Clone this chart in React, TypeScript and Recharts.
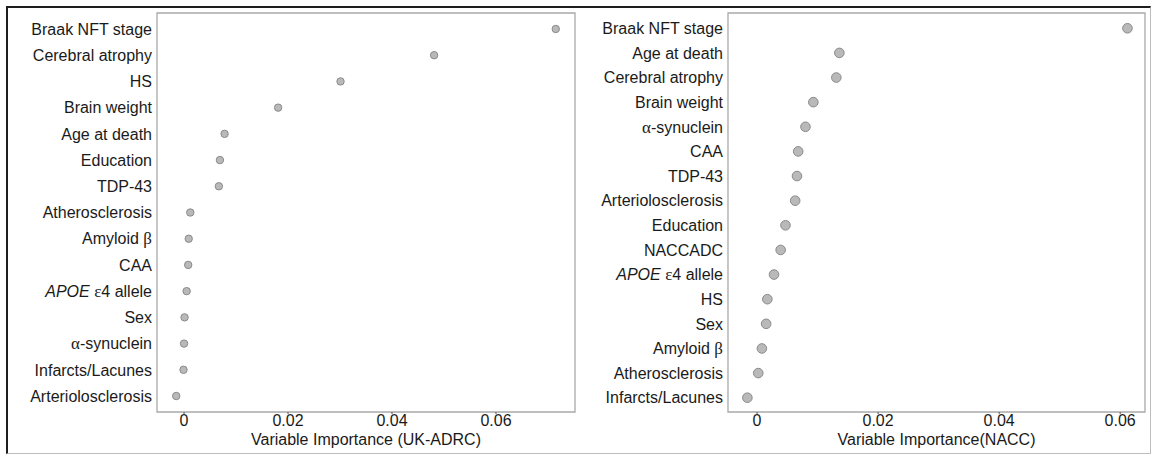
import React from "react";
import { ScatterChart, Scatter, XAxis, YAxis, ReferenceArea } from "recharts";

const ukCategories = [
  "Braak NFT stage",
  "Cerebral atrophy",
  "HS",
  "Brain weight",
  "Age at death",
  "Education",
  "TDP-43",
  "Atherosclerosis",
  "Amyloid β",
  "CAA",
  "APOE ε4 allele",
  "Sex",
  "α-synuclein",
  "Infarcts/Lacunes",
  "Arteriolosclerosis",
];
const ukValues = [0.0715, 0.0481, 0.0301, 0.0181, 0.0078, 0.0069, 0.0067, 0.0012, 0.0009, 0.0008, 0.0005, 0.0001, 0.0, -0.0001, -0.0015];

const naccCategories = [
  "Braak NFT stage",
  "Age at death",
  "Cerebral atrophy",
  "Brain weight",
  "α-synuclein",
  "CAA",
  "TDP-43",
  "Arteriolosclerosis",
  "Education",
  "NACCADC",
  "APOE ε4 allele",
  "HS",
  "Sex",
  "Amyloid β",
  "Atherosclerosis",
  "Infarcts/Lacunes",
];
const naccValues = [0.0612, 0.0136, 0.0131, 0.0093, 0.008, 0.0068, 0.0066, 0.0063, 0.0047, 0.0039, 0.0028, 0.0017, 0.0015, 0.0008, 0.0002, -0.0016];

const xTicks = [0, 0.02, 0.04, 0.06];
const ukTitle = "Variable Importance (UK-ADRC)";
const naccTitle = "Variable Importance(NACC)";

const FONT = "'Liberation Sans', Arial, sans-serif";
const SERIF = "'Liberation Serif', 'Times New Roman', serif";

function renderLabel(label: string) {
  const parts: React.ReactNode[] = [];
  if (label.startsWith("APOE")) {
    parts.push(
      <tspan key="i" fontStyle="italic">
        APOE
      </tspan>
    );
    label = label.slice(4);
  }
  let buf = "";
  let k = 0;
  for (const ch of label) {
    if (ch === "α" || ch === "β" || ch === "ε") {
      if (buf) parts.push(<tspan key={k++}>{buf}</tspan>);
      buf = "";
      parts.push(
        <tspan key={k++} fontFamily={SERIF} fontSize={17}>
          {ch}
        </tspan>
      );
    } else buf += ch;
  }
  if (buf) parts.push(<tspan key={k++}>{buf}</tspan>);
  return parts;
}

function makeTick(categories: string[]) {
  return (props: any) => {
    const { x, y, payload } = props;
    const label = categories[Math.round(payload.value) - 1] ?? "";
    return (
      <text x={x} y={y} dy="0.36em" textAnchor="end" fill="#1a1a1a" fontSize={16} fontFamily={FONT}>
        {renderLabel(label)}
      </text>
    );
  };
}

function makeDot(r: number) {
  return (props: any) => (
    <circle cx={props.cx} cy={props.cy} r={r} fill="#b9b9b9" stroke="#8a8a8a" strokeWidth={1} />
  );
}

type PanelProps = {
  categories: string[];
  values: number[];
  xDomain: [number, number];
  yDomain: [number, number];
  width: number;
  yWidth: number;
  margin: { top: number; right: number; bottom: number; left: number };
  title: string;
  r: number;
};

function Panel({ categories, values, xDomain, yDomain, width, yWidth, margin, title, r }: PanelProps) {
  const data = categories.map((c, i) => ({ name: c, rank: i + 1, value: values[i] }));
  const yTicks = categories.map((_, i) => i + 1);
  return (
    <ScatterChart width={width} height={454} margin={margin}>
      <XAxis
        type="number"
        dataKey="value"
        domain={xDomain}
        allowDataOverflow
        ticks={xTicks}
        tickFormatter={(v: number) => (v === 0 ? "0" : String(v))}
        axisLine={false}
        tickLine={{ stroke: "#555" }}
        tickSize={2}
        tickMargin={1}
        height={34}
        tick={{ fill: "#1a1a1a", fontSize: 16, fontFamily: FONT }}
        label={{ value: title, position: "insideBottom", offset: 1, fill: "#1a1a1a", fontSize: 16, fontFamily: FONT }}
      />
      <YAxis
        type="number"
        dataKey="rank"
        reversed
        domain={yDomain}
        allowDataOverflow
        ticks={yTicks}
        interval={0}
        axisLine={false}
        tickLine={false}
        tickSize={0}
        tickMargin={5}
        width={yWidth}
        tick={makeTick(categories)}
      />
      <ReferenceArea
        x1={xDomain[0]}
        x2={xDomain[1]}
        y1={yDomain[0]}
        y2={yDomain[1]}
        fill="none"
        fillOpacity={0}
        stroke="#a9a9a9"
        strokeWidth={1.3}
        ifOverflow="visible"
      />
      <Scatter data={data} isAnimationActive={false} shape={makeDot(r)} />
    </ScatterChart>
  );
}

export default function App() {
  return (
    <div style={{ position: "absolute", left: 0, top: 0, width: 1151, height: 454, background: "#fff" }}>
      <div
        style={{
          position: "absolute",
          left: 6,
          top: 6,
          width: 1142,
          height: 445,
          borderTop: "2px solid #1e1e1e",
          borderLeft: "2px solid #1e1e1e",
          borderRight: "1px solid #bdbdbd",
          borderBottom: "1px solid #bdbdbd",
        }}
      />
      <div style={{ position: "absolute", left: 0, top: 0 }}>
        <Panel
          categories={ukCategories}
          values={ukValues}
          xDomain={[-0.0052, 0.0752]}
          yDomain={[0.39, 15.61]}
          width={580}
          yWidth={150}
          margin={{ top: 13, right: 5, bottom: 8, left: 7 }}
          title={ukTitle}
          r={3.7}
        />
      </div>
      <div style={{ position: "absolute", left: 580, top: 0 }}>
        <Panel
          categories={naccCategories}
          values={naccValues}
          xDomain={[-0.0048, 0.0641]}
          yDomain={[0.38, 16.58]}
          width={571}
          yWidth={140}
          margin={{ top: 13, right: 6, bottom: 8, left: 8 }}
          title={naccTitle}
          r={4.8}
        />
      </div>
    </div>
  );
}
